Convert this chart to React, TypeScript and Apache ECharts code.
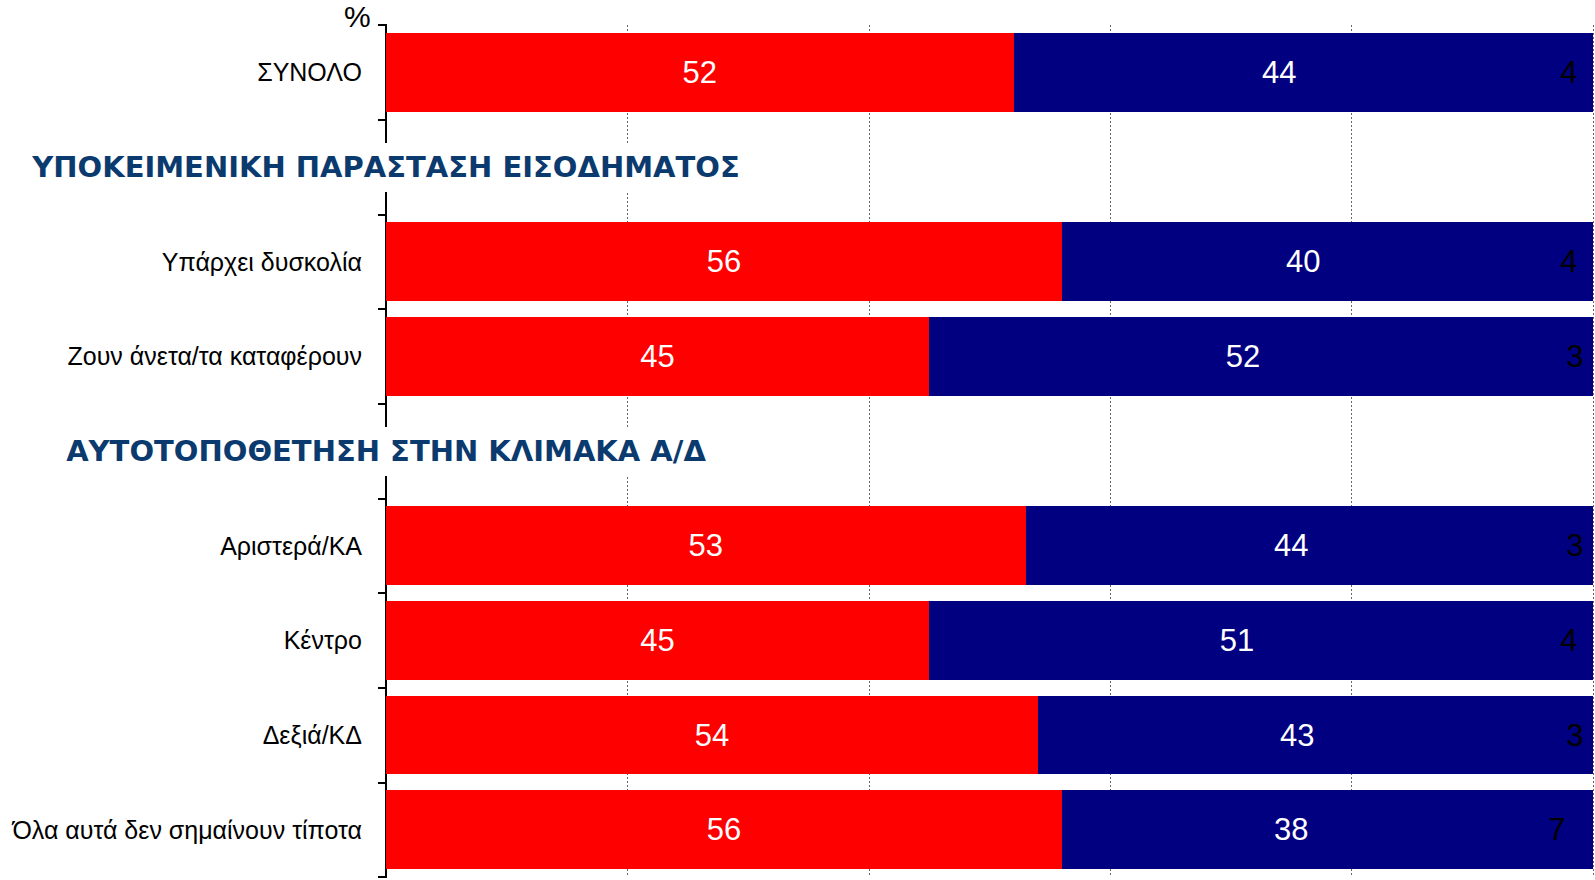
import React, { useEffect, useRef } from "react";
import * as echarts from "echarts";

const categories = [
  "ΣΥΝΟΛΟ",
  "ΥΠΟΚΕΙΜΕΝΙΚΗ ΠΑΡΑΣΤΑΣΗ ΕΙΣΟΔΗΜΑΤΟΣ",
  "Υπάρχει δυσκολία",
  "Ζουν άνετα/τα καταφέρουν",
  "ΑΥΤΟΤΟΠΟΘΕΤΗΣΗ ΣΤΗΝ ΚΛΙΜΑΚΑ Α/Δ",
  "Αριστερά/ΚΑ",
  "Κέντρο",
  "Δεξιά/ΚΔ",
  "Όλα αυτά δεν σημαίνουν τίποτα",
];
const headerRows = [1, 4];
const redValues = [52, null, 56, 45, null, 53, 45, 54, 56];
const navyValues = [44, null, 40, 52, null, 44, 51, 43, 38];
const restValues = [4, null, 4, 3, null, 3, 4, 3, 7];
const xTicks = [0, 20, 40, 60, 80, 100];

export default function App() {
  const ref = useRef<HTMLDivElement>(null);
  useEffect(() => {
    if (!ref.current) return;
    const chart = echarts.init(ref.current, null, { renderer: "svg" });
    const labelFont = "'Liberation Sans', Arial, sans-serif";
    const barLabel = (color: string) => ({
      show: true,
      position: "inside",
      color,
      fontSize: 31,
      fontFamily: labelFont,
      formatter: (p: any) => (p.value == null ? "" : String(p.value)),
    });
    chart.setOption({
      animation: false,
      backgroundColor: "#ffffff",
      grid: { left: 386, right: 2, top: 25, bottom: 3, containLabel: false },
      xAxis: {
        type: "value",
        min: xTicks[0],
        max: xTicks[xTicks.length - 1],
        interval: 20,
        axisLabel: { show: false },
        axisLine: { show: false },
        axisTick: { show: false },
        splitLine: { show: true, lineStyle: { color: "#666666", type: [2, 2], width: 1 } },
      },
      yAxis: {
        type: "category",
        inverse: true,
        data: categories,
        axisLine: { show: true, lineStyle: { color: "#000000", width: 2 } },
        axisTick: { show: true, length: 8, lineStyle: { color: "#000000", width: 2 } },
        axisLabel: {
          margin: 24,
          fontSize: 25,
          color: "#000000",
          fontFamily: labelFont,
          formatter: (v: string, i: number) => (headerRows.includes(i) ? "" : v),
        },
        splitLine: { show: false },
      },
      graphic: [
        {
          type: "text",
          left: 344,
          top: 1,
          style: { text: "%", fontSize: 30, fontFamily: labelFont, fill: "#000000" },
        },
      ],
      series: [
        {
          type: "bar",
          stack: "s",
          data: redValues,
          barCategoryGap: "17%",
          itemStyle: { color: "#FF0000" },
          label: barLabel("#FFFFFF"),
        },
        {
          type: "bar",
          stack: "s",
          data: navyValues,
          itemStyle: { color: "#000080" },
          label: barLabel("#FFFFFF"),
        },
        {
          type: "bar",
          stack: "s",
          data: restValues,
          itemStyle: { color: "#000080" },
          label: barLabel("#000000"),
        },
        {
          type: "custom",
          z: 10,
          clip: false,
          encode: { x: 0, y: 1 },
          data: headerRows.map((r) => [0, r]),
          renderItem: (params: any, api: any) => {
            const row = api.value(1);
            const p = api.coord([0, row]);
            return {
              type: "text",
              x: p[0],
              y: p[1],
              style: {
                text: categories[headerRows[params.dataIndex]],
                align: "center",
                verticalAlign: "middle",
                fill: "#0B3A6E",
                fontSize: 29,
                fontWeight: "bold",
                fontFamily: "'DejaVu Sans', Verdana, sans-serif",
                backgroundColor: "#ffffff",
                padding: [14, 4, 6, 4],
              },
            };
          },
        },
      ],
    });
    return () => chart.dispose();
  }, []);
  return (
    <>
      <style>{`.chart-host svg path { shape-rendering: crispEdges; }`}</style>
      <div
        ref={ref}
        className="chart-host"
        style={{ position: "fixed", left: 0, top: 0, width: 1595, height: 880 }}
      />
    </>
  );
}
